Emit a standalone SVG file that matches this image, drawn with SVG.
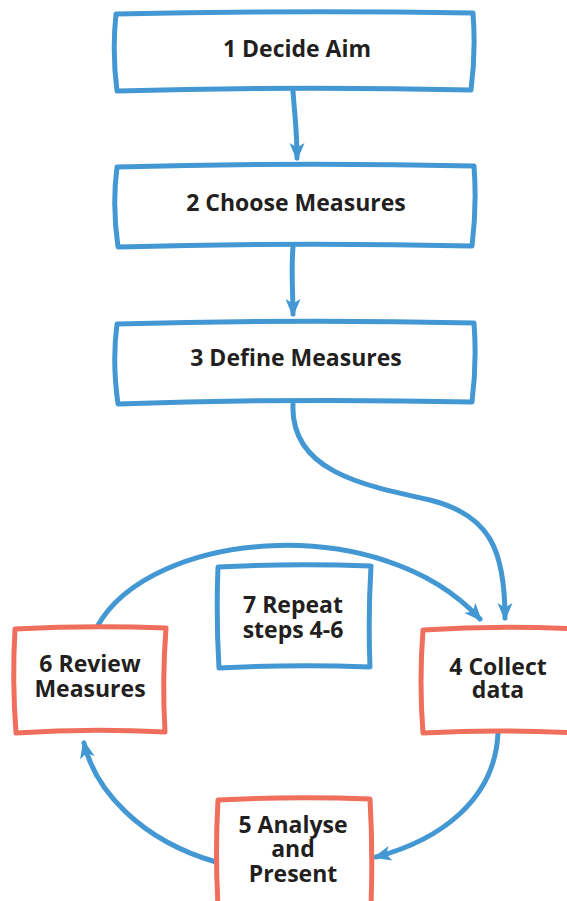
<svg xmlns="http://www.w3.org/2000/svg" width="567" height="901" viewBox="0 0 567 901">
<defs>
<style>
.blue{fill:#fff;stroke:#4398d3;stroke-width:5;stroke-linejoin:round}
.red{fill:#fff;stroke:#ef6e5c;stroke-width:5;stroke-linejoin:round}
.conn{fill:none;stroke:#4398d3;stroke-width:5;stroke-linecap:round}
.t{font-family:"Open Sans","Liberation Sans",sans-serif;font-weight:bold;font-size:23px;fill:#231f20;text-anchor:middle}
</style>
<marker id="ah" markerUnits="userSpaceOnUse" markerWidth="20" markerHeight="18" refX="15" refY="9" orient="auto">
<path d="M0,1.5 L18,9 L0,16.5 L4.5,9 Z" fill="#4398d3"/>
</marker>
</defs>
<rect width="567" height="901" fill="#fff"/>
<g id="connectors">
<path class="conn" d="M293,91 C295,120 297,130 297,158" marker-end="url(#ah)"/>
<path class="conn" d="M293,247 C291,270 293,295 293,314" marker-end="url(#ah)"/>
<path class="conn" d="M293,404 C290,470 360,485 430,500 C490,515 505,550 505,618" marker-end="url(#ah)"/>
<path class="conn" d="M97,627 C150,530 380,510 480,619" marker-end="url(#ah)"/>
<path class="conn" d="M498,733 C495,800 440,840 376,857" marker-end="url(#ah)"/>
<path class="conn" d="M216,862 C140,840 95,790 84,743" marker-end="url(#ah)"/>
</g>
<g id="n1">
<path class="blue" d="M116,14 Q295,10 473,13 Q476,52 471,90 Q295,86 117,91 Q112,52 116,14 Z"/>
<text class="t" x="297" y="57">1 Decide Aim</text>
</g>
<g id="n2">
<path class="blue" d="M117,167 Q295,162 474,166 Q477,206 472,246 Q295,242 118,247 Q112,206 117,167 Z"/>
<text class="t" x="296" y="211">2 Choose Measures</text>
</g>
<g id="n3">
<path class="blue" d="M117,324 Q295,319 474,323 Q477,362 472,402 Q295,398 118,404 Q112,362 117,324 Z"/>
<text class="t" x="296" y="366">3 Define Measures</text>
</g>
<g id="n4">
<path class="red" d="M423,630 Q498,625 575,629 L575,733 Q498,729 423,733 Q419,682 423,630 Z"/>
<text class="t" x="498" y="675">4 Collect</text>
<text class="t" x="498" y="698">data</text>
</g>
<g id="n5">
<path class="red" d="M218,800 Q295,796 370,799 Q373,852 371,905 L218,905 Q215,852 218,800 Z"/>
<text class="t" x="293" y="833">5 Analyse</text>
<text class="t" x="293" y="857">and</text>
<text class="t" x="293" y="882">Present</text>
</g>
<g id="n6">
<path class="red" d="M15,629 Q90,625 166,628 Q162,680 165,732 Q90,728 16,733 Q12,680 15,629 Z"/>
<text class="t" x="90" y="672">6 Review</text>
<text class="t" x="90" y="697">Measures</text>
</g>
<g id="n7">
<path class="blue" d="M218,567 Q293,563 371,566 Q368,617 370,667 Q293,664 219,668 Q216,617 218,567 Z"/>
<text class="t" x="293" y="613">7 Repeat</text>
<text class="t" x="293" y="638">steps 4-6</text>
</g>
</svg>
